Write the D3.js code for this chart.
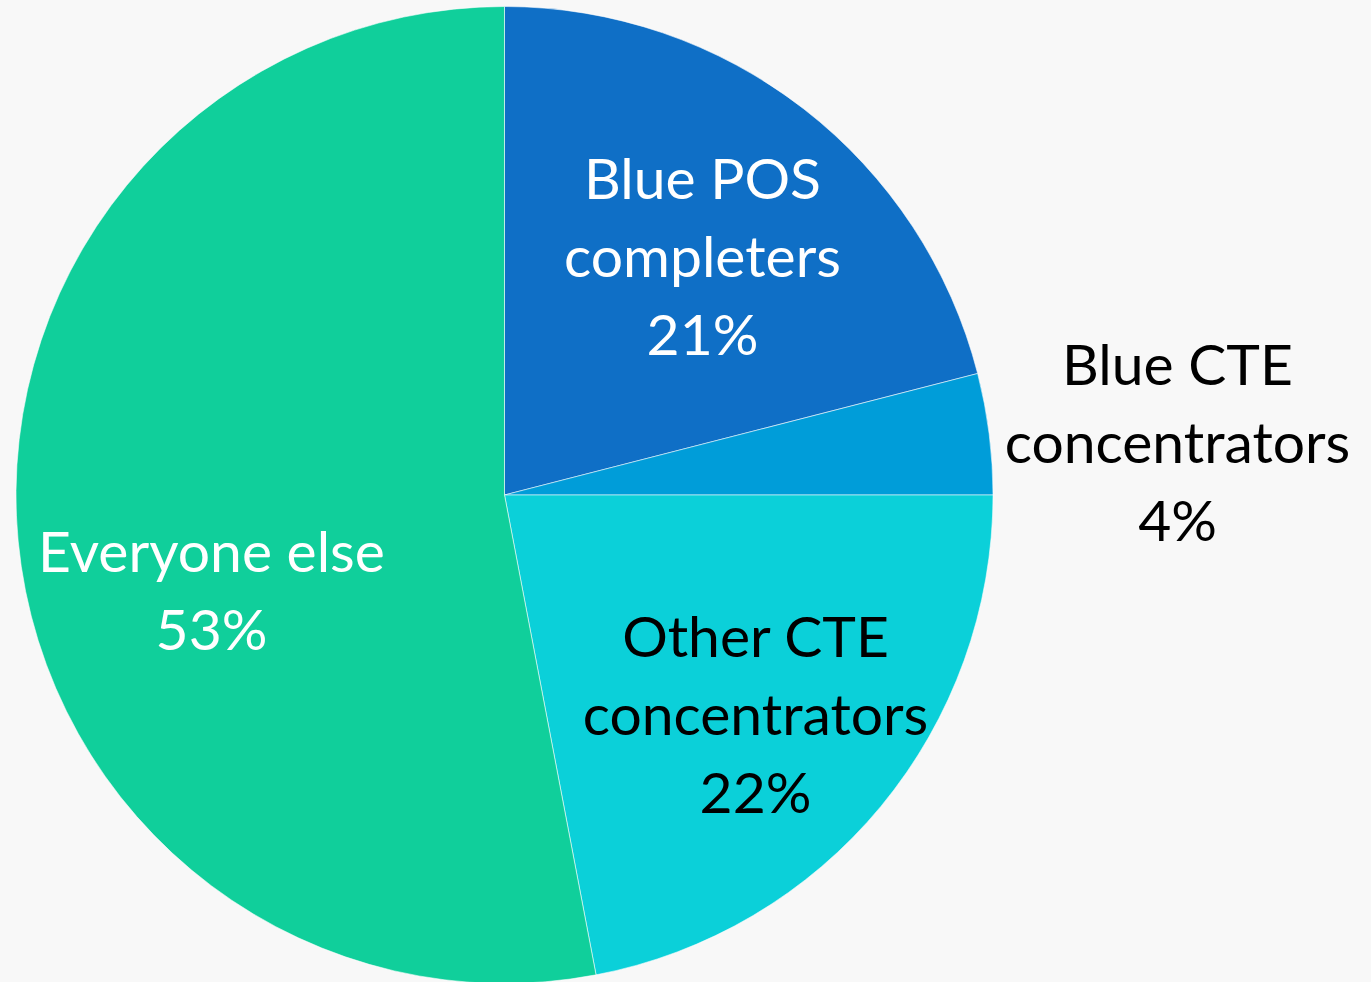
<!DOCTYPE html>
<html lang="en">
<head>
  <meta charset="UTF-8">
  <title>Pie chart</title>
  <script src="https://d3js.org/d3.v7.min.js"></script>
  <style>
    html, body { margin: 0; padding: 0; background: #f8f8f8; }
    svg { display: block; }
  </style>
</head>
<body>
<svg id="pie" width="1371" height="982"></svg>
<script>
  // slice data, clockwise from 12 o'clock
  const categories = ["Blue POS completers", "Blue CTE concentrators", "Other CTE concentrators", "Everyone else"];
  const values = [21, 4, 22, 53];
  const labelLines = [["Blue POS", "completers"], ["Blue CTE", "concentrators"], ["Other CTE", "concentrators"], ["Everyone else"]];
  const colors = ["#0f6fc6", "#009dd9", "#0bd0d9", "#10cf9b"];
  const textColors = ["#ffffff", "#000000", "#000000", "#ffffff"];

  (() => {
    const svg = d3.select("#pie"),
        cx = 504.5, cy = 495, r = 488.5;

    const g = svg.append("g").attr("transform", `translate(${cx},${cy})`);

    const pie = d3.pie().sort(null).value(d => d.value);
    const arc = d3.arc().innerRadius(0).outerRadius(r);

    const data = categories.map((c, i) => ({ name: c, value: values[i], lines: labelLines[i], i }));
    const arcs = pie(data);

    g.selectAll("path")
        .data(arcs)
        .enter().append("path")
        .attr("d", arc)
        .attr("fill", d => colors[d.data.i])
        .attr("stroke", "rgba(255,255,255,0.55)")
        .attr("stroke-width", 1);

    // label centres (x of centre, baseline of first line), relative to the pie centre
    const labelPos = [[198, -296], [673, -110], [251, 162], [-293, 77]];
    const lineH = 78;

    arcs.forEach(d => {
      const i = d.data.i;
      const lines = d.data.lines.concat([d.data.value + "%"]);
      const t = g.append("text")
          .attr("text-anchor", "middle")
          .attr("font-family", "Lato, 'Open Sans', sans-serif")
          .attr("font-size", "57px")
          .attr("fill", textColors[i]);
      lines.forEach((l, k) => {
        t.append("tspan")
            .attr("x", labelPos[i][0])
            .attr("y", labelPos[i][1] + k * lineH)
            .text(l);
      });
    });
  })();
</script>
</body>
</html>
